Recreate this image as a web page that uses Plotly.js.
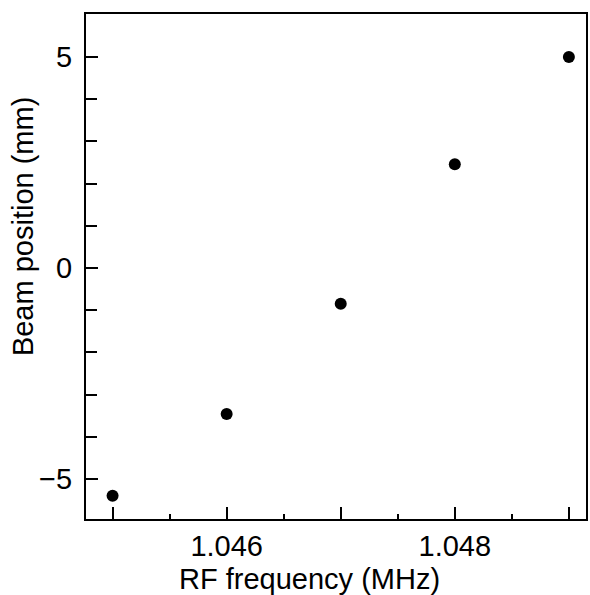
<!DOCTYPE html>
<html>
<head>
<meta charset="utf-8">
<script src="https://cdn.plot.ly/plotly-3.0.1.min.js"></script>
<style>html,body{margin:0;padding:0;background:#fff;}#chart{width:590px;height:595px;}</style>
</head>
<body>
<div id="chart"></div>
<script>
const freqMHz = [1.045, 1.046, 1.047, 1.048, 1.049];
const beamPosMM = [-5.40, -3.46, -0.85, 2.46, 5.0];
const xTickVals = [1.045, 1.046, 1.047, 1.048, 1.049];
const xTickText = ['', '1.046', '', '1.048', ''];
const yTickVals = [-5, 0, 5];
const yTickText = ['\u22125', '0', '5'];
const xTitle = 'RF frequency (MHz)';
const yTitle = 'Beam position (mm)';

const font = 'Liberation Sans, Arial, Helvetica, sans-serif';

const trace = {
  x: freqMHz, y: beamPosMM, type: 'scatter', mode: 'markers',
  marker: {color: '#000', size: 12, line: {width: 0}},
  hoverinfo: 'skip'
};

const layout = {
  width: 590, height: 595,
  margin: {l: 86, r: 4, t: 14, b: 76},
  paper_bgcolor: '#fff', plot_bgcolor: '#fff',
  showlegend: false,
  font: {family: font, color: '#000', size: 29},
  xaxis: {
    range: [1.044767, 1.04915],
    tickmode: 'array', tickvals: xTickVals, ticktext: xTickText,
    ticks: 'inside', ticklen: 12, tickwidth: 2, tickcolor: '#000',
    minor: {dtick: 0.0005, tick0: 1.045, ticks: 'inside', ticklen: 5, tickwidth: 2, tickcolor: '#000', showgrid: false},
    showgrid: false, zeroline: false,
    showline: true, linecolor: '#000', linewidth: 2, mirror: true,
    tickfont: {family: font, size: 29, color: '#000'},
    ticklabelstandoff: 0
  },
  yaxis: {
    range: [-5.95, 6.02],
    tickmode: 'array', tickvals: yTickVals, ticktext: yTickText,
    ticks: 'inside', ticklen: 12, tickwidth: 2, tickcolor: '#000',
    minor: {dtick: 1, tick0: 0, ticks: 'inside', ticklen: 11, tickwidth: 2, tickcolor: '#000', showgrid: false},
    showgrid: false, zeroline: false,
    showline: true, linecolor: '#000', linewidth: 2, mirror: true,
    tickfont: {family: font, size: 29, color: '#000'},
    ticklabelstandoff: 6
  },
  annotations: [
    {text: xTitle, xref: 'paper', yref: 'paper', x: 0.447, y: -0.119,
     xanchor: 'center', yanchor: 'middle', showarrow: false,
     font: {family: font, size: 29, color: '#000'}},
    {text: yTitle, xref: 'paper', yref: 'paper', x: -0.126, y: 0.578,
     xanchor: 'center', yanchor: 'middle', showarrow: false, textangle: -90,
     font: {family: font, size: 29, color: '#000'}}
  ]
};

Plotly.newPlot('chart', [trace], layout, {staticPlot: true, displayModeBar: false});
</script>
</body>
</html>
